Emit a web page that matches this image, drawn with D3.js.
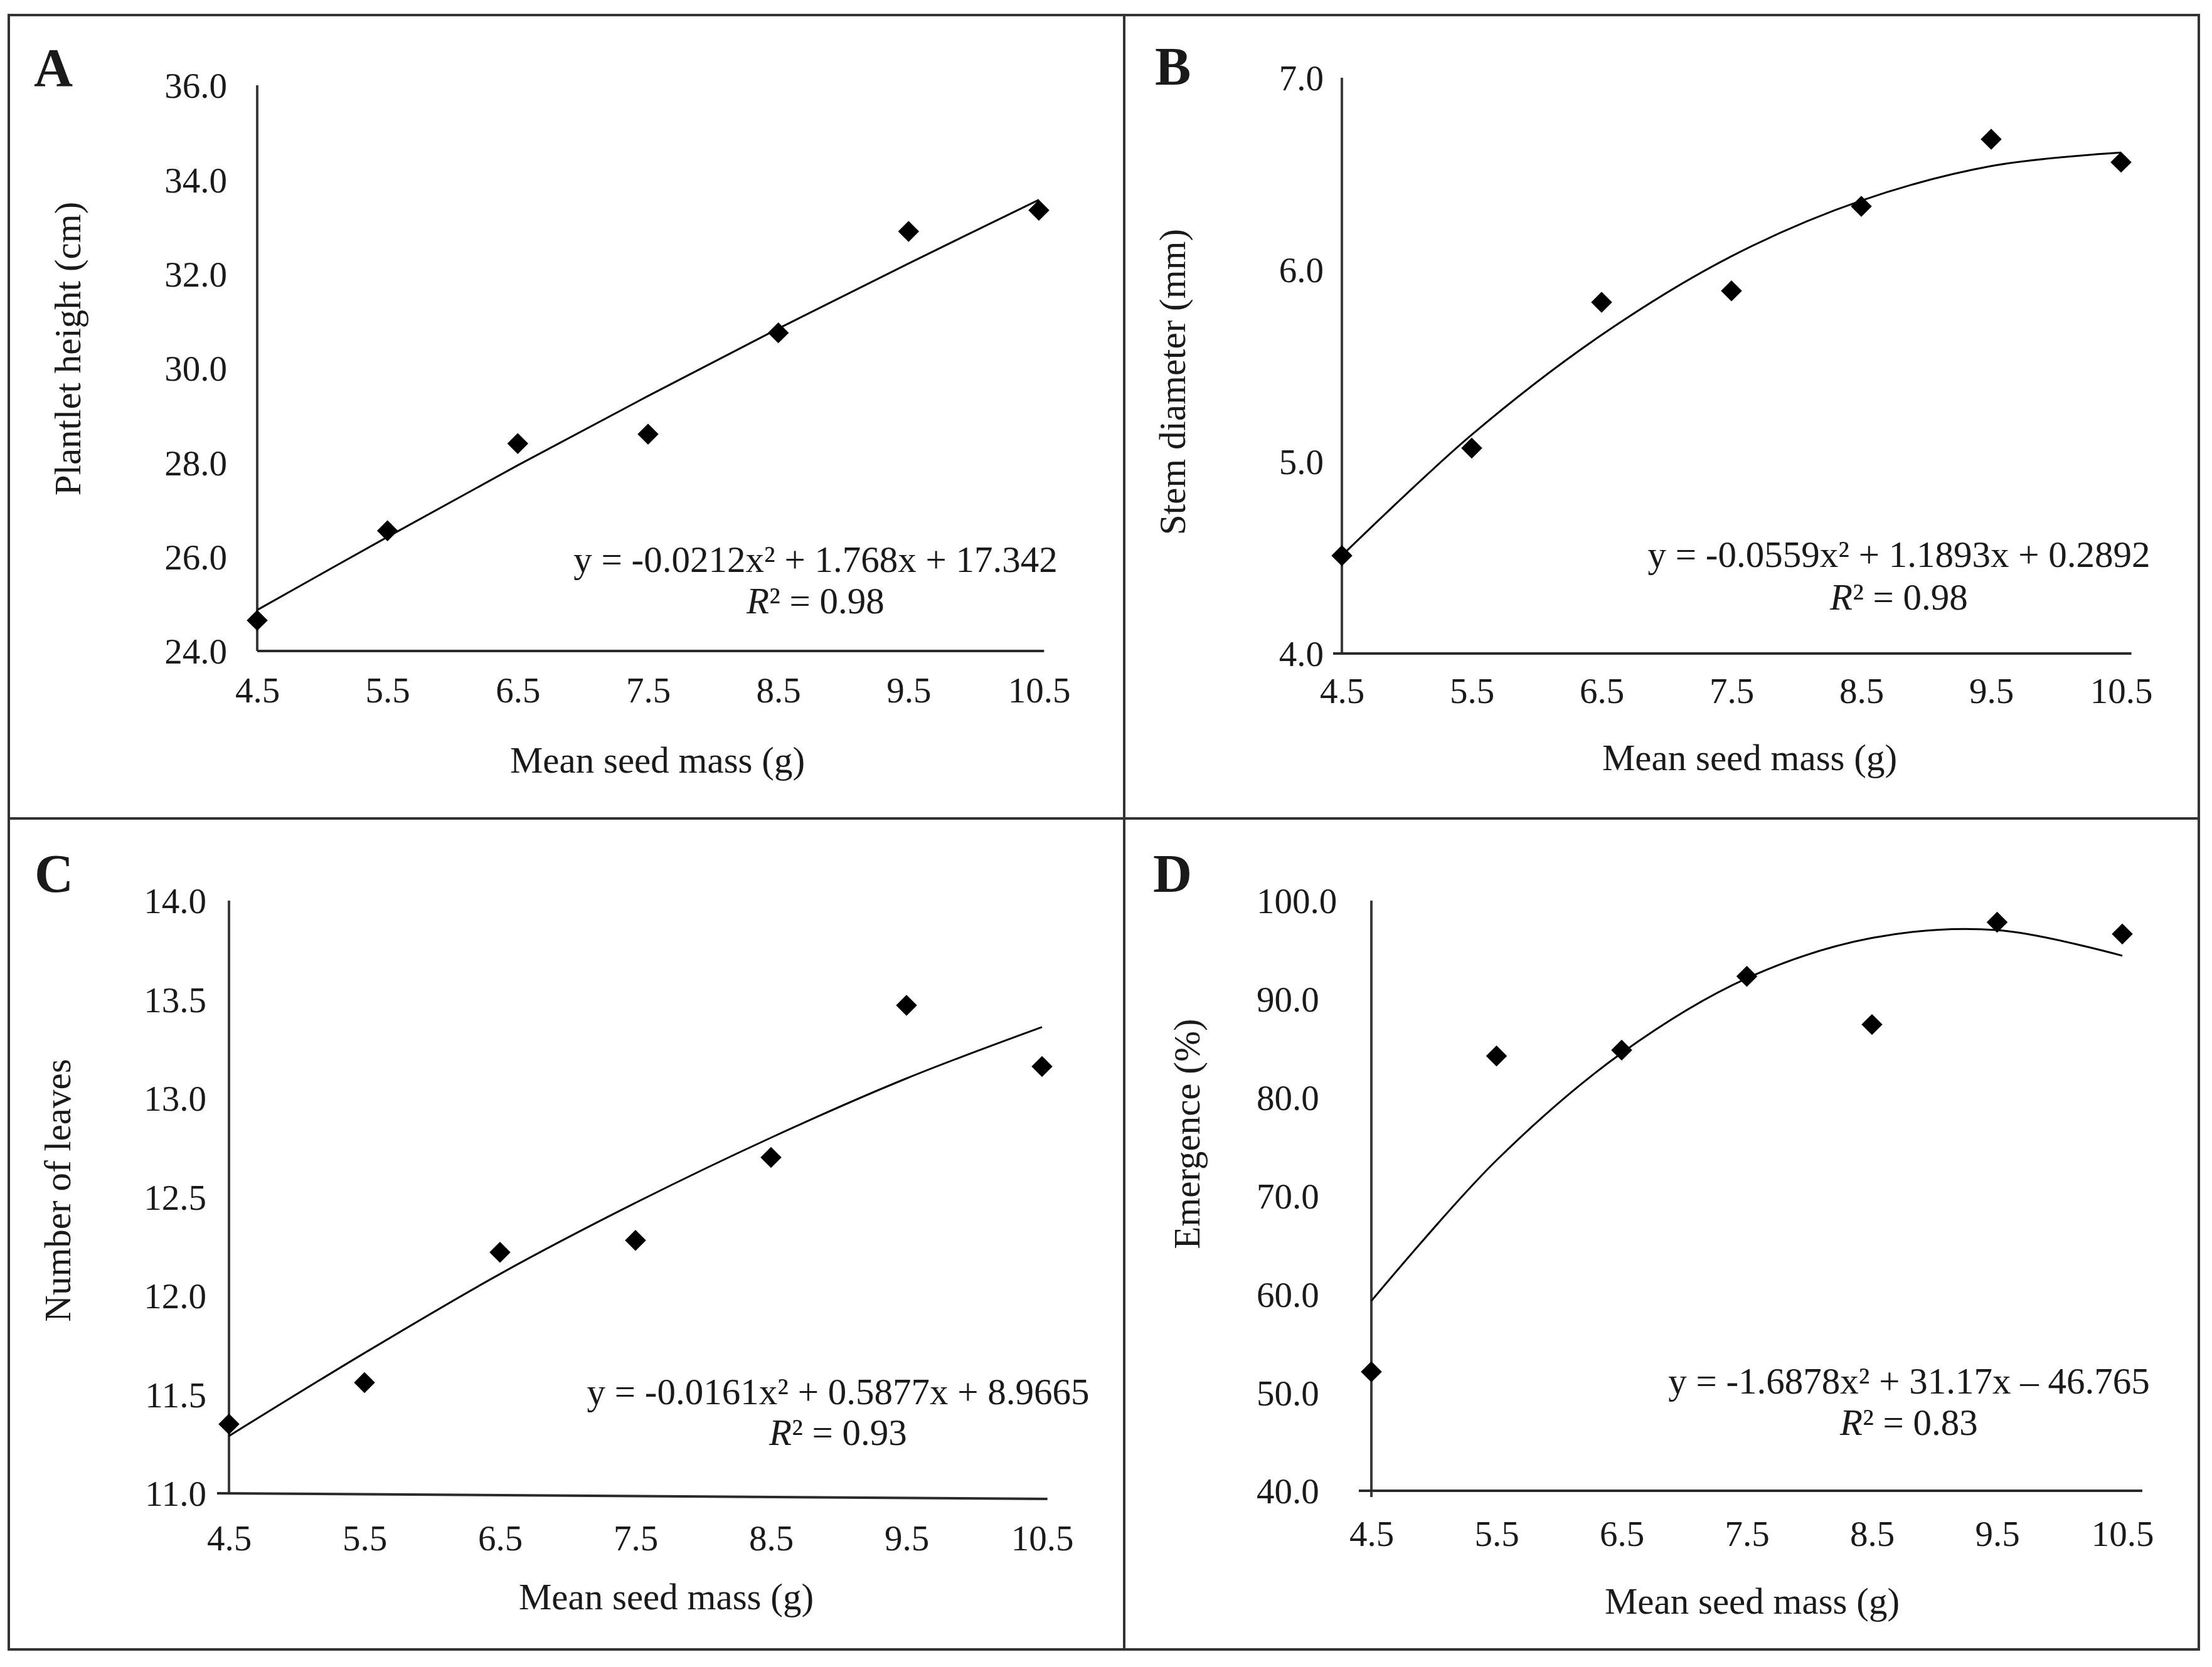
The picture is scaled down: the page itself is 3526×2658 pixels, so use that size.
<!DOCTYPE html>
<html>
<head>
<meta charset="utf-8">
<script src="https://cdn.jsdelivr.net/npm/d3@7"></script>
<style>
  body { margin: 0; background: #fff; }
  svg text { font-family: "Liberation Serif", "Times New Roman", serif; fill: #1a1a1a; }
</style>
</head>
<body>
<div id="chart"></div>
<script>
var W = 3526, H = 2658;

// mean seed mass classes (g), same for all four panels
var seedMass = [4.5, 5.5, 6.5, 7.5, 8.5, 9.5, 10.5];
var xTicks = [4.5, 5.5, 6.5, 7.5, 8.5, 9.5, 10.5];

var heightCm = [24.65, 26.55, 28.4, 28.6, 30.75, 32.9, 33.35];
var stemMm = [4.51, 5.07, 5.83, 5.89, 6.33, 6.68, 6.56];
var leaves = [11.35, 11.56, 12.22, 12.28, 12.70, 13.47, 13.16];
var emergence = [52.1, 84.2, 84.8, 92.3, 87.4, 97.8, 96.6];

// fitted trend curves, read at each class
var heightFit = [24.87, 26.42, 27.94, 29.41, 30.84, 32.22, 33.57];
var stemFit = [4.51, 5.14, 5.66, 6.07, 6.36, 6.54, 6.61];
var leavesFit = [11.29, 11.71, 12.11, 12.47, 12.80, 13.10, 13.36];
var emergenceFit = [59.3, 73.6, 84.5, 92.1, 96.2, 97.0, 94.4];

// y tick labels
var heightTicks = [24, 26, 28, 30, 32, 34, 36];
var stemTicks = [4, 5, 6, 7];
var leavesTicks = [11, 11.5, 12, 12.5, 13, 13.5, 14];
var emergenceTicks = [40, 50, 60, 70, 80, 90, 100];

var panels = [
  { letter: "A", yTitle: "Plantlet height (cm)", ys: heightCm, fit: heightFit, yTicks: heightTicks,
    eq: "y = -0.0212x\u00b2 + 1.768x + 17.342", r2: "0.98",
    x45: 410, x105: 1656, xMax: 10.54, yTop: 136, yBot: 1038, xExt: 0, yExt: 0, tilt: 0,
    yLabX: 362, yAnchor: "end", xLabDy: 82,
    yTitleX: 128, yTitleY: 556, xTitleX: 1048, xTitleY: 1232,
    eqX: 1300, eqY: 912, r2Y: 978, letX: 54, letY: 137 },
  { letter: "B", yTitle: "Stem diameter (mm)", ys: stemMm, fit: stemFit, yTicks: stemTicks,
    eq: "y = -0.0559x\u00b2 + 1.1893x + 0.2892", r2: "0.98",
    x45: 2139, x105: 3381, xMax: 10.58, yTop: 124, yBot: 1042, xExt: 14, yExt: 0, tilt: 0,
    yLabX: 2110, yAnchor: "end", xLabDy: 79,
    yTitleX: 1889, yTitleY: 609, xTitleX: 2789, xTitleY: 1228,
    eqX: 3027, eqY: 904, r2Y: 972, letX: 1841, letY: 135 },
  { letter: "C", yTitle: "Number of leaves", ys: leaves, fit: leavesFit, yTicks: leavesTicks,
    eq: "y = -0.0161x\u00b2 + 0.5877x + 8.9665", r2: "0.93",
    x45: 365, x105: 1661, xMax: 10.54, yTop: 1436, yBot: 2381, xExt: 19, yExt: 0, tilt: 9,
    yLabX: 329, yAnchor: "end", xLabDy: 91,
    yTitleX: 112, yTitleY: 1898, xTitleX: 1062, xTitleY: 2566,
    eqX: 1336, eqY: 2239, r2Y: 2304, letX: 55, letY: 1422 },
  { letter: "D", yTitle: "Emergence (%)", ys: emergence, fit: emergenceFit, yTicks: emergenceTicks,
    eq: "y = -1.6878x\u00b2 + 31.17x \u2013 46.765", r2: "0.83",
    x45: 2186, x105: 3383, xMax: 10.66, yTop: 1436, yBot: 2377, xExt: 20, yExt: 10, tilt: 0,
    yLabX: 2003, yAnchor: "start", xLabDy: 88,
    yTitleX: 1912, yTitleY: 1808, xTitleX: 2793, xTitleY: 2573,
    eqX: 3043, eqY: 2222, r2Y: 2288, letX: 1838, letY: 1422 }
];

var svg = d3.select("#chart").append("svg")
  .attr("width", W)
  .attr("height", H);

svg.append("rect").attr("width", W).attr("height", H).attr("fill", "#fff");

// frame and dividers
var frame = svg.append("g").attr("stroke", "#333").attr("stroke-width", 4).attr("fill", "none");
frame.append("rect").attr("x", 14).attr("y", 24).attr("width", 3491).attr("height", 2606);
frame.append("line").attr("x1", 1792).attr("x2", 1792).attr("y1", 24).attr("y2", 2630);
frame.append("line").attr("x1", 14).attr("x2", 3505).attr("y1", 1305).attr("y2", 1305);

var fmt = d3.format(".1f");

panels.forEach(function (p) {
  var k = (p.x105 - p.x45) / 6;
  var x = d3.scaleLinear().domain([4.5, p.xMax]).range([p.x45, p.x45 + k * (p.xMax - 4.5)]);
  var yMin = p.yTicks[0], yMax = p.yTicks[p.yTicks.length - 1];
  var y = d3.scaleLinear().domain([yMin, yMax]).range([p.yBot, p.yTop]);
  var g = svg.append("g");

  // axis lines
  g.append("line")
    .attr("x1", x(4.5)).attr("x2", x(4.5))
    .attr("y1", y(yMax)).attr("y2", y(yMin) + p.yExt)
    .attr("stroke", "#3a3a3a").attr("stroke-width", 4);
  g.append("line")
    .attr("x1", x(4.5) - p.xExt).attr("x2", x(p.xMax))
    .attr("y1", y(yMin)).attr("y2", y(yMin) + p.tilt)
    .attr("stroke", "#2a2a2a").attr("stroke-width", 4);

  // tick labels
  var ya = d3.axisLeft(y).tickValues(p.yTicks).tickFormat(fmt).tickSize(0);
  var yg = g.append("g")
    .attr("transform", "translate(" + x(4.5) + ",0)")
    .call(ya)
    .attr("font-family", null)
    .attr("font-size", 57);
  yg.select(".domain").remove();
  yg.selectAll("text")
    .attr("x", p.yLabX - x(4.5))
    .attr("dy", "0.35em")
    .attr("text-anchor", p.yAnchor);

  var xa = d3.axisBottom(x).tickValues(xTicks).tickFormat(fmt).tickSize(0);
  var xg = g.append("g")
    .attr("transform", "translate(0," + y(yMin) + ")")
    .call(xa)
    .attr("font-family", null)
    .attr("font-size", 57);
  xg.select(".domain").remove();
  xg.selectAll("text").attr("y", p.xLabDy).attr("dy", 0);

  // axis titles
  g.append("text")
    .attr("transform", "translate(" + p.yTitleX + "," + p.yTitleY + ") rotate(-90)")
    .attr("text-anchor", "middle")
    .attr("font-size", 59)
    .text(p.yTitle);
  g.append("text")
    .attr("x", p.xTitleX).attr("y", p.xTitleY)
    .attr("text-anchor", "middle")
    .attr("font-size", 59)
    .text("Mean seed mass (g)");

  // trend curve
  var line = d3.line()
    .x(function (d) { return x(d[0]); })
    .y(function (d) { return y(d[1]); })
    .curve(d3.curveCatmullRom.alpha(0.5));
  g.append("path")
    .datum(d3.zip(seedMass, p.fit))
    .attr("d", line)
    .attr("fill", "none")
    .attr("stroke", "#000")
    .attr("stroke-width", 3);

  // observed points (black diamonds)
  g.selectAll("path.pt")
    .data(d3.zip(seedMass, p.ys))
    .join("path")
    .attr("class", "pt")
    .attr("d", d3.symbol(d3.symbolSquare, 560))
    .attr("transform", function (d) { return "translate(" + x(d[0]) + "," + y(d[1]) + ") rotate(45)"; })
    .attr("fill", "#000");

  // equation and R²
  g.append("text")
    .attr("x", p.eqX).attr("y", p.eqY)
    .attr("text-anchor", "middle")
    .attr("font-size", 59)
    .text(p.eq);
  var r = g.append("text")
    .attr("x", p.eqX).attr("y", p.r2Y)
    .attr("text-anchor", "middle")
    .attr("font-size", 59);
  r.append("tspan").attr("font-style", "italic").text("R");
  r.append("tspan").text("\u00b2 = " + p.r2);

  // panel letter
  g.append("text")
    .attr("x", p.letX).attr("y", p.letY)
    .attr("font-size", 86)
    .attr("font-weight", "bold")
    .text(p.letter);
});
</script>
</body>
</html>
